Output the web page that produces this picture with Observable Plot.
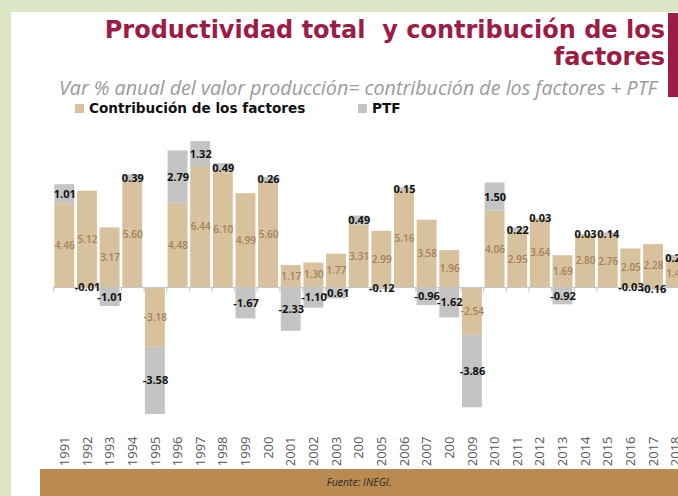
<!DOCTYPE html>
<html><head><meta charset="utf-8">
<script src="https://cdn.jsdelivr.net/npm/d3@7"></script>
<script src="https://cdn.jsdelivr.net/npm/@observablehq/plot@0.6"></script>
<style>
html,body{margin:0;padding:0;}
body{width:678px;height:496px;overflow:hidden;background:#dce6c6;position:relative;font-family:"Open Sans",sans-serif;}
#panel{position:absolute;left:11px;top:12px;width:667px;height:484px;background:#fff;}
#title{position:absolute;right:13px;top:17px;text-align:right;font-family:"DejaVu Sans",sans-serif;font-weight:700;font-size:24px;line-height:27px;color:#9c1c45;white-space:pre;}
#redbar{position:absolute;left:668px;top:13px;width:10px;height:84px;background:#9c1c45;}
#subtitle{position:absolute;right:21px;top:74px;font-style:italic;font-size:19.7px;color:#9a9a9a;white-space:nowrap;}
.leg{position:absolute;top:100px;font-family:"DejaVu Sans",sans-serif;font-weight:700;font-size:13.6px;color:#111;display:flex;align-items:center;}
.sw{display:inline-block;width:9px;height:9px;margin-right:5px;}
#chart{position:absolute;left:0;top:120px;}
#footer{position:absolute;left:40px;top:469px;width:638px;height:27px;background:#b98b52;color:#2a2a2a;font-style:italic;font-size:10.5px;text-align:center;line-height:27px;}
</style></head><body>
<div id="panel"></div>
<div id="title">Productividad total  y contribución de los
factores</div>
<div id="redbar"></div>
<div id="subtitle">Var % anual del valor producción= contribución de los factores + PTF</div>
<div class="leg" style="left:75px"><span class="sw" style="background:#d8c19d"></span>Contribución de los factores</div>
<div class="leg" style="left:358px"><span class="sw" style="background:#c4c4c4"></span>PTF</div>
<div id="chart"></div>
<div id="footer">Fuente: INEGI.</div>
<script>
const years = ["1991","1992","1993","1994","1995","1996","1997","1998","1999","2000","2001","2002","2003","2004","2005","2006","2007","2008","2009","2010","2011","2012","2013","2014","2015","2016","2017","2018"];
const tickLabels = ["1991","1992","1993","1994","1995","1996","1997","1998","1999","200","2001","2002","2003","200","2005","2006","2007","200","2009","2010","2011","2012","2013","2014","2015","2016","2017","2018"];
const factores = [4.46,5.12,3.17,5.60,-3.18,4.48,6.44,6.10,4.99,5.60,1.17,1.30,1.77,3.31,2.99,5.16,3.58,1.96,-2.54,4.06,2.95,3.64,1.69,2.80,2.76,2.05,2.28,1.43];
const ptf = [1.01,-0.01,-1.01,0.39,-3.58,2.79,1.32,0.49,-1.67,0.26,-2.33,-1.10,-0.61,0.49,-0.12,0.15,-0.96,-1.62,-3.86,1.50,0.22,0.03,-0.92,0.03,0.14,-0.03,-0.16,0.27];
const seriesNames = ["Contribución de los factores","PTF"];

const data = [];
years.forEach((y,i)=>{
  data.push({year:y, series:seriesNames[0], value:factores[i]});
  data.push({year:y, series:seriesNames[1], value:ptf[i]});
});
const labelOf = new Map(years.map((y,i)=>[y,tickLabels[i]]));
const zero = 167, unit = 18.8;

const plot = Plot.plot({
  width: 700, height: 350,
  marginLeft: 53, marginRight: 13, marginTop: 10, marginBottom: 38,
  style: {maxWidth:"none", overflow:"visible", background:"transparent", fontFamily:"Open Sans, sans-serif"},
  x: {domain: years, paddingInner: 0.12, paddingOuter: 0.06, round: false, axis: null},
  y: {domain: [-8, 8], range: [zero + 8*unit, zero - 8*unit], axis: null},
  color: {domain: seriesNames, range: ["#d8c19d", "#c4c4c4"]},
  marks: [
    Plot.barY(data, Plot.stackY({x:"year", y:"value", z:"series", fill:"series"})),
    Plot.ruleY([0], {stroke:"#c8c8c8", strokeWidth:1.2}),
    Plot.ruleX(years, {x: d=>d, y1: 0, y2: -0.24, dx: -11.3, stroke:"#c8c8c8", strokeWidth:1.2}),
    Plot.text(data, Plot.stackY({x:"year", y:"value", z:"series",
      text: d => d.series === seriesNames[0] ? d.value.toFixed(2) : null,
      fill:"#a57f58", fontSize:10, fontWeight:600, letterSpacing:-0.3})),
    Plot.text(data, Plot.stackY({x:"year", y:"value", z:"series",
      text: d => d.series === seriesNames[1] ? d.value.toFixed(2) : null,
      fill:"#111", fontSize:11, fontWeight:700, letterSpacing:-0.5})),
    Plot.axisX({anchor:"bottom", label:null, tickSize:0, tickPadding:4, tickRotate:-90,
      tickFormat: d => labelOf.get(d), fontSize:13, fill:"#555"})
  ]
});
document.getElementById("chart").appendChild(plot);
</script>
</body></html>
